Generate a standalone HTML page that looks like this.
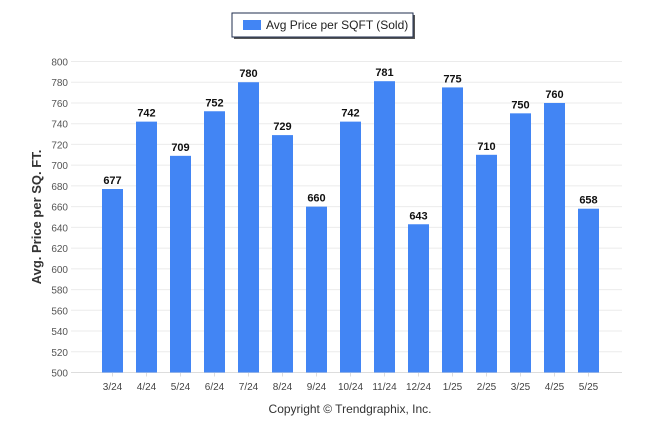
<!DOCTYPE html>
<html><head><meta charset="utf-8"><style>
body{margin:0;background:#fff;font-family:"Liberation Sans",sans-serif}
</style></head><body>
<svg width="646" height="434" xmlns="http://www.w3.org/2000/svg">
<g>
<rect x="234" y="15" width="181" height="24" fill="#555"/>
<rect x="232" y="13" width="181" height="24" fill="#fff" stroke="#1f2d4d" stroke-width="1"/>
<rect x="243" y="20" width="18" height="10" fill="#4285f4"/>
<text x="266" y="29" font-size="12" fill="#222">Avg Price per SQFT (Sold)</text>
</g>
<g id="grid"></g>
<g id="bars"></g>
<text transform="translate(41,217) rotate(-90)" text-anchor="middle" font-size="13" font-weight="bold" fill="#333">Avg. Price per SQ. FT.</text>
<text x="350" y="413" text-anchor="middle" font-size="12" fill="#333">Copyright © Trendgraphix, Inc.</text>
</svg>
<script>
const categories=["3/24","4/24","5/24","6/24","7/24","8/24","9/24","10/24","11/24","12/24","1/25","2/25","3/25","4/25","5/25"];
const values=[677,742,709,752,780,729,660,742,781,643,775,710,750,760,658];
const yTicks=[500,520,540,560,580,600,620,640,660,680,700,720,740,760,780,800];
const NS="http://www.w3.org/2000/svg";
const yMin=500,yMax=800,yTop=61.5,yBot=372.5;
function y(v){return yBot-(v-yMin)/(yMax-yMin)*(yBot-yTop);}
function x(i){return 112.5+i*34;}
const grid=document.getElementById('grid'),bars=document.getElementById('bars');
function mk(t,a,p){const e=document.createElementNS(NS,t);for(const k in a)e.setAttribute(k,a[k]);p.appendChild(e);return e;}
yTicks.forEach(t=>{
 const l=mk('line',{x1:71,x2:622,y1:y(t),y2:y(t),stroke:t===500?'#ddd':'#ebebeb','stroke-width':1},grid);
 
 
 const tx=mk('text',{x:68,y:y(t)+4,'text-anchor':'end','font-size':10,fill:'#555'},grid);
 tx.textContent=t;
 
 
});
categories.forEach((c,i)=>{
 const b=mk('rect',{x:x(i)-10.5,y:y(values[i]),width:21,height:yBot-y(values[i]),fill:'#4285f4'},bars);
 
 
 const v=mk('text',{x:x(i),y:y(values[i])-5,'text-anchor':'middle','font-size':11,'font-weight':'bold',fill:'#111'},bars);
 v.textContent=values[i];
 
 
 const tk=mk('line',{x1:x(i),x2:x(i),y1:yBot,y2:yBot+4,stroke:'#ddd'},bars);
 
 
 const lb=mk('text',{x:x(i),y:390,'text-anchor':'middle','font-size':10,fill:'#444'},bars);
 lb.textContent=c;
 
 
});
</script>
</body></html>
